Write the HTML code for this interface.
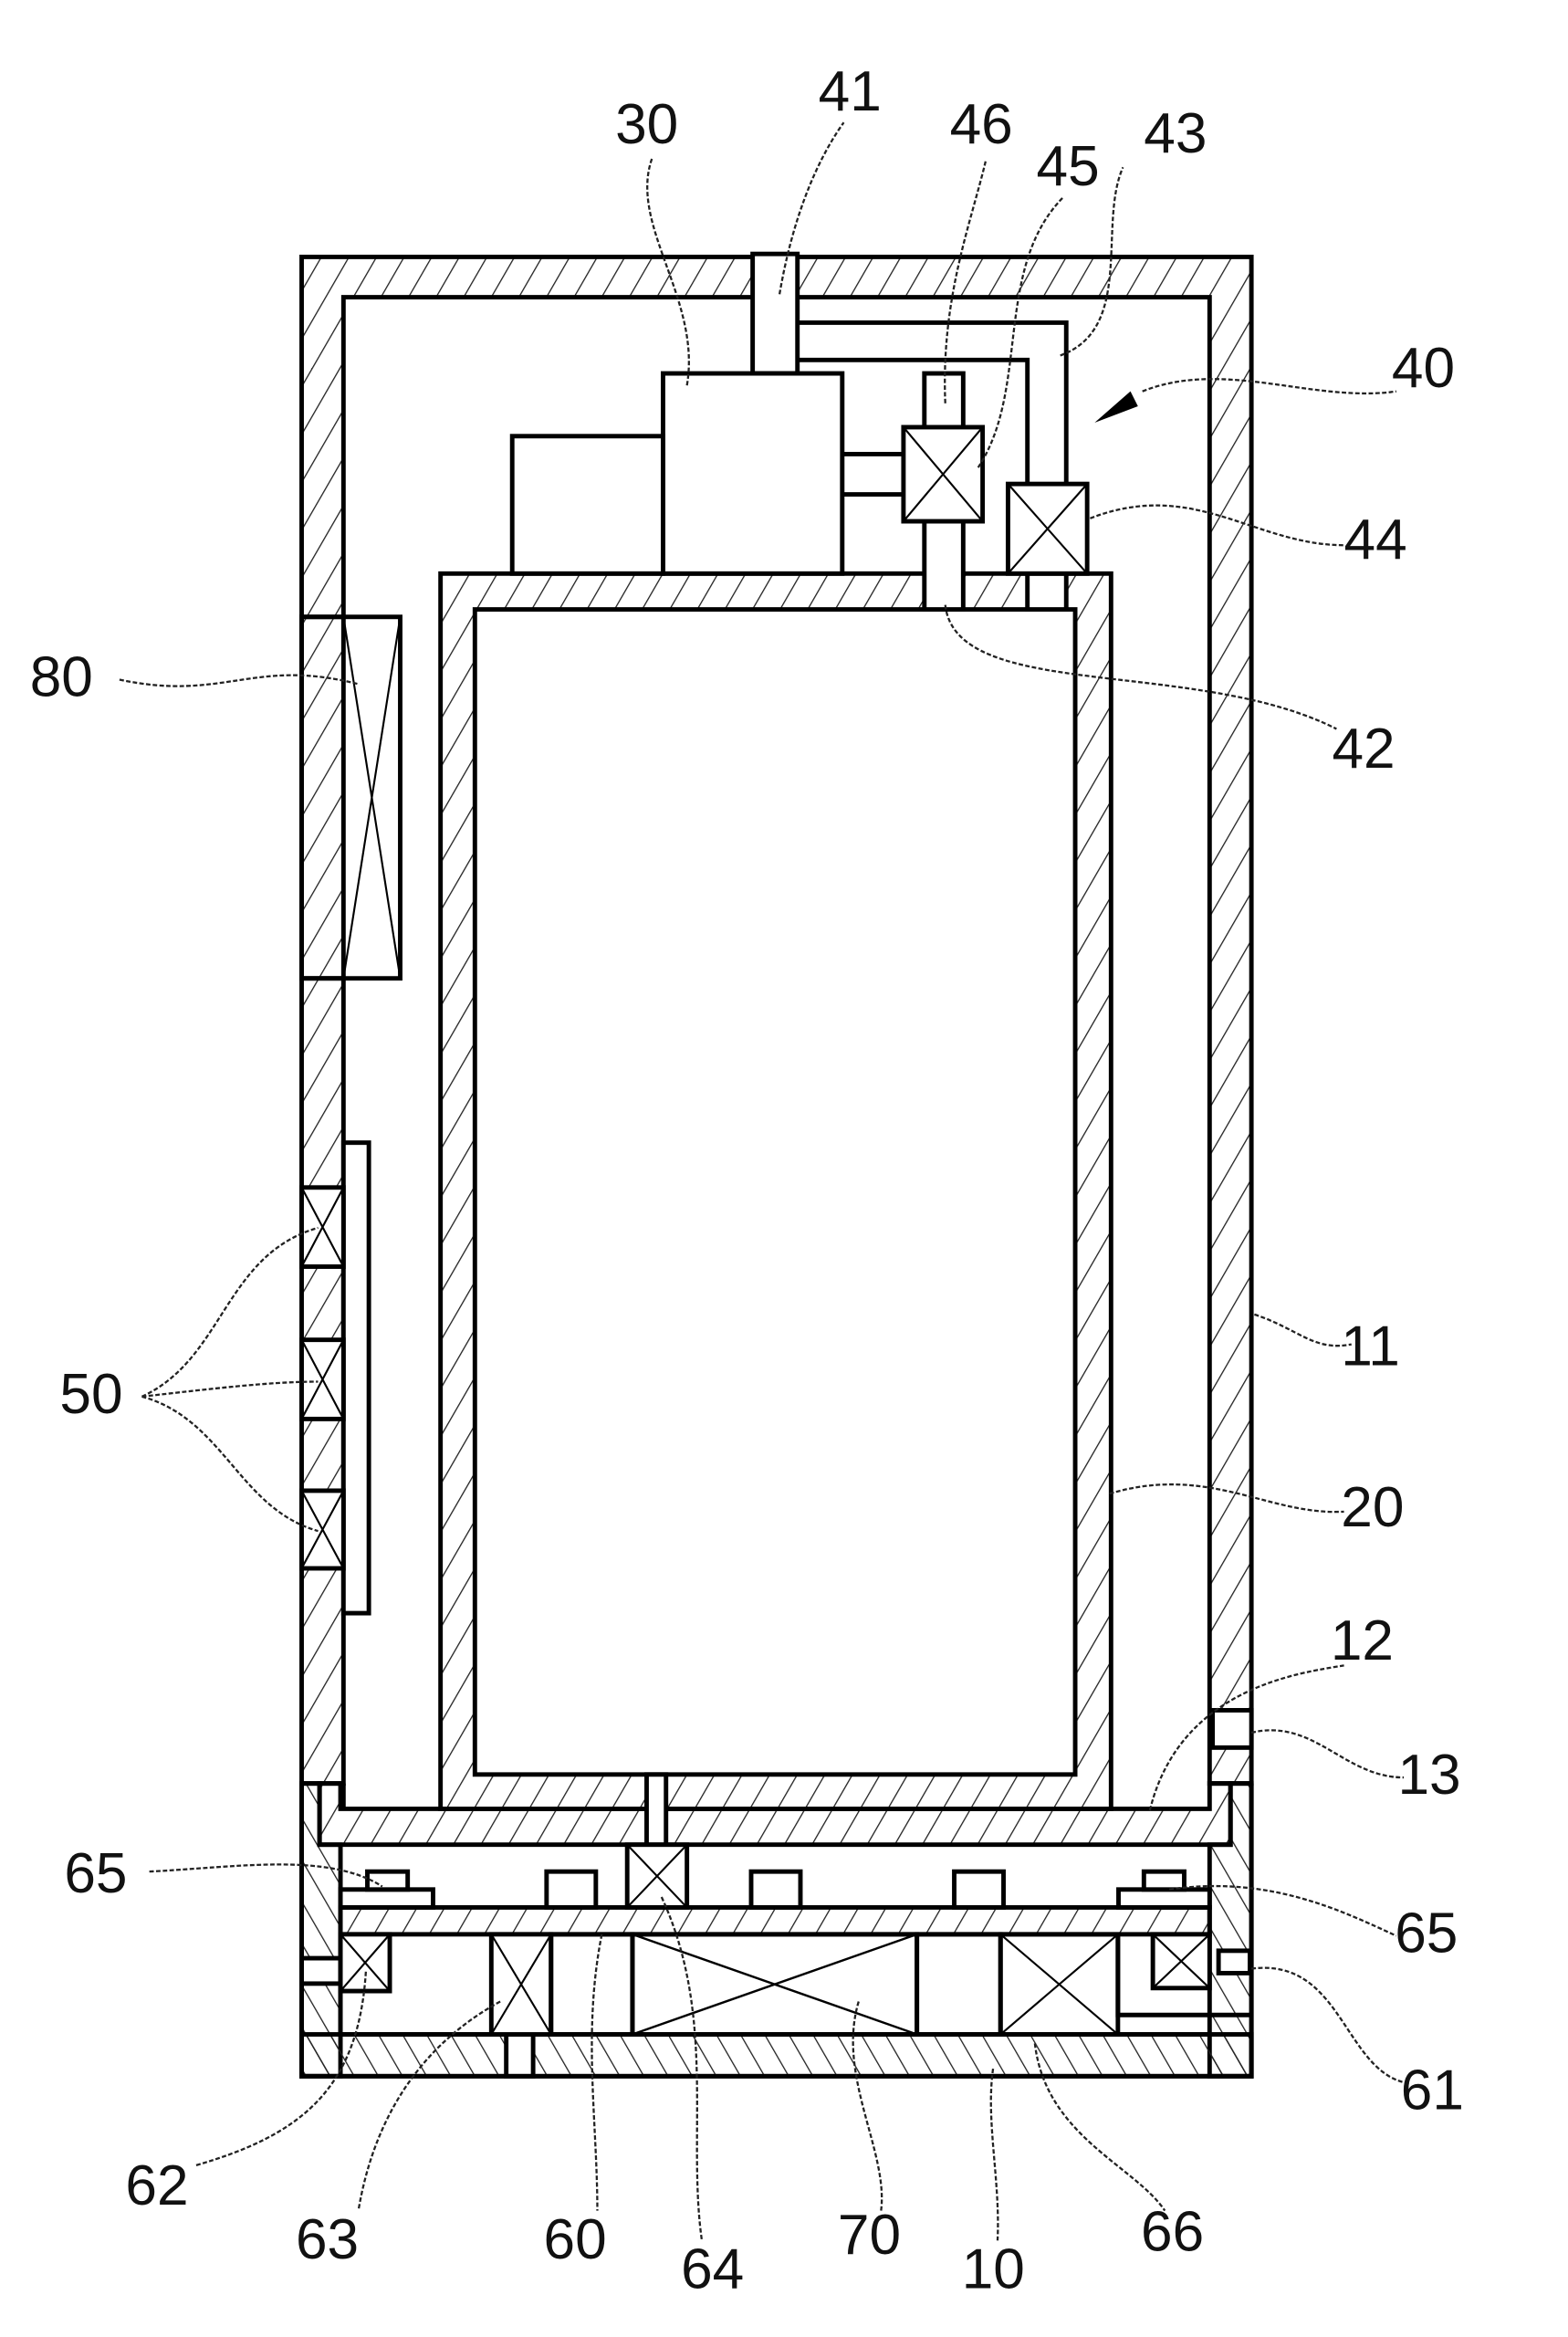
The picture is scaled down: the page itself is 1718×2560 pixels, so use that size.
<!DOCTYPE html>
<html><head><meta charset="utf-8"><style>html,body{margin:0;padding:0;background:#fff}svg{display:block}text{font-family:"Liberation Sans",sans-serif;font-size:38px;fill:#111}</style></head>
<body>
<svg width="1718" height="2560" viewBox="0 0 1050 1564.6" preserveAspectRatio="none" xmlns="http://www.w3.org/2000/svg">
<defs>
<pattern id="h" patternUnits="userSpaceOnUse" width="16" height="16" patternTransform="rotate(30)"><line x1="0" y1="0" x2="0" y2="16" stroke="#222" stroke-width="1.6"/></pattern>
<pattern id="b" patternUnits="userSpaceOnUse" width="14" height="14" patternTransform="rotate(-30)"><line x1="0" y1="0" x2="0" y2="14" stroke="#222" stroke-width="1.6"/></pattern>
</defs>
<g stroke="#000" stroke-width="3" fill="none">
<!-- outer housing 11 -->
<path d="M202,1194V172H838V1194H810V199H230V1194Z" fill="url(#h)"/>
<path d="M230,1194V1211"/>
<!-- 41 pipe -->
<rect x="504" y="170" width="30" height="80" fill="#fff"/>
<!-- 80 -->
<rect x="202" y="413" width="66" height="242" fill="#fff"/>
<rect x="202" y="413" width="28" height="242" fill="url(#h)"/>
<path d="M230,413L268,655M268,413L230,655" stroke-width="1.3"/>
<!-- 50 -->
<rect x="230" y="765" width="17" height="315" fill="#fff"/>
<g fill="#fff"><rect x="202" y="795" width="28" height="53"/><rect x="202" y="897" width="28" height="53"/><rect x="202" y="998" width="28" height="52"/></g>
<path d="M202,795L230,848M230,795L202,848M202,897L230,950M230,897L202,950M202,998L230,1050M230,998L202,1050" stroke-width="1.3"/>
<!-- chamber 20 -->
<path d="M295,384H744V1211H295Z M318,408V1188H720V408Z" fill="url(#h)" fill-rule="evenodd"/>
<!-- 30 -->
<rect x="444" y="250" width="120" height="134" fill="#fff"/>
<rect x="343" y="292" width="101" height="92" fill="#fff"/>
<!-- 43 pipe -->
<path d="M534,216H714V324M534,241H688V324"/>
<rect x="688" y="384" width="26" height="24" fill="#fff"/>
<rect x="675" y="324" width="53" height="60" fill="#fff"/>
<path d="M675,324L728,384M728,324L675,384" stroke-width="1.3"/>
<!-- 46/45/42 -->
<rect x="619" y="250" width="26" height="36" fill="#fff"/>
<rect x="619" y="349" width="26" height="59" fill="#fff"/>
<rect x="605" y="286" width="53" height="63" fill="#fff"/>
<path d="M605,286L658,349M658,286L605,349" stroke-width="1.3"/>
<path d="M564,304H605M564,331H605"/>
<!-- bottom section 10 -->
<path d="M202,1194H214V1235H228V1390H202Z" fill="url(#b)"/>
<path d="M838,1194H824V1235H810V1390H838Z" fill="url(#b)"/>
<rect x="202" y="1362" width="636" height="28" fill="url(#b)"/>
<rect x="339" y="1362" width="18" height="28" fill="#fff"/>
<rect x="202" y="1311" width="26" height="17" fill="#fff"/>
<rect x="816" y="1306" width="21" height="15" fill="#fff"/>
<path d="M202,1194V1390H838V1194"/>
<!-- plate 12 -->
<path d="M214,1194H228V1211H810V1194H824V1235H214Z" fill="url(#h)"/>
<rect x="433" y="1188" width="13" height="47" fill="#fff"/>
<!-- 64 -->
<rect x="420" y="1235" width="40" height="42" fill="#fff"/>
<path d="M420,1235L460,1277M460,1235L420,1277" stroke-width="1.3"/>
<!-- pads 65 -->
<g fill="#fff">
<rect x="228" y="1265" width="62" height="12"/><rect x="246" y="1253" width="27" height="12"/>
<rect x="366" y="1253" width="33" height="24"/><rect x="503" y="1253" width="33" height="24"/><rect x="639" y="1253" width="33" height="24"/>
<rect x="749" y="1265" width="61" height="12"/><rect x="766" y="1253" width="27" height="12"/>
</g>
<!-- plate 60 -->
<rect x="228" y="1277" width="582" height="18" fill="url(#h)"/>
<!-- lower row -->
<path d="M228,1295V1362H810" />
<rect x="228" y="1295" width="33" height="38" fill="#fff"/>
<path d="M228,1295L261,1333M261,1295L228,1333" stroke-width="1.3"/>
<rect x="329" y="1295" width="40" height="67" fill="#fff"/>
<path d="M329,1295L369,1362M369,1295L329,1362" stroke-width="1.3"/>
<rect x="369" y="1295" width="54.5" height="67"/>
<rect x="423.5" y="1295" width="190.5" height="67"/>
<path d="M423.5,1295L614,1362M614,1295L423.5,1362" stroke-width="1.5"/>
<rect x="614" y="1295" width="56" height="67"/>
<rect x="670" y="1295" width="78.6" height="67"/>
<path d="M670,1295L748.6,1362M748.6,1295L670,1362" stroke-width="1.3"/>
<path d="M748.6,1295V1349H838"/>
<rect x="772" y="1295" width="38" height="36" fill="#fff"/>
<path d="M772,1295L810,1331M810,1295L772,1331" stroke-width="1.3"/>
<!-- 13 -->
<rect x="812" y="1145" width="26" height="25" fill="#fff"/>
</g>
<!-- 40 arrow -->
<polygon points="757,262 733,283 762,272" fill="#000"/>
<g stroke="#222" stroke-width="1.4" fill="none" stroke-dasharray="3,1.5">
<path d="M460,258C470,200 420,150 437,105"/>
<path d="M522,197C530,150 545,110 565,82"/>
<path d="M633,270C630,200 650,150 660,108"/>
<path d="M655,313C690,260 665,180 712,132"/>
<path d="M710,238C760,220 735,150 752,112"/>
<path d="M765,262C820,240 880,270 935,262"/>
<path d="M730,347C800,320 840,365 900,365"/>
<path d="M633,405C640,470 800,440 895,488"/>
<path d="M80,455C150,470 170,440 240,458"/>
<path d="M95,935C150,910 150,840 213,822M95,935C140,930 180,925 213,925M95,935C150,950 160,1010 213,1025"/>
<path d="M840,880C870,890 880,905 905,900"/>
<path d="M743,1000C810,980 850,1015 900,1012"/>
<path d="M770,1212C790,1130 870,1120 900,1115"/>
<path d="M838,1160C880,1150 900,1190 940,1190"/>
<path d="M100,1253C160,1250 220,1240 256,1263"/>
<path d="M783,1265C850,1255 900,1280 935,1296"/>
<path d="M838,1318C900,1310 900,1390 945,1395"/>
<path d="M245,1320C240,1400 200,1430 130,1450"/>
<path d="M335,1340C280,1370 250,1420 240,1480"/>
<path d="M403,1295C390,1360 400,1420 400,1480"/>
<path d="M443,1270C480,1350 460,1430 470,1500"/>
<path d="M575,1340C560,1390 595,1440 590,1480"/>
<path d="M665,1385C660,1420 670,1460 668,1500"/>
<path d="M693,1368C700,1430 760,1450 780,1480"/>
</g>
<text x="412" y="96">30</text><text x="548" y="74">41</text><text x="636" y="96">46</text><text x="694" y="124">45</text>
<text x="766" y="102">43</text><text x="932" y="259">40</text><text x="900" y="374">44</text><text x="892" y="514">42</text>
<text x="20" y="466">80</text><text x="40" y="946">50</text><text x="898" y="914">11</text><text x="898" y="1022">20</text>
<text x="891" y="1111">12</text><text x="936" y="1201">13</text><text x="43" y="1267">65</text><text x="934" y="1307">65</text>
<text x="938" y="1412">61</text><text x="84" y="1476">62</text><text x="198" y="1512">63</text><text x="364" y="1512">60</text>
<text x="456" y="1532">64</text><text x="561" y="1509">70</text><text x="644" y="1532">10</text><text x="764" y="1507">66</text>
</svg>
</body></html>
